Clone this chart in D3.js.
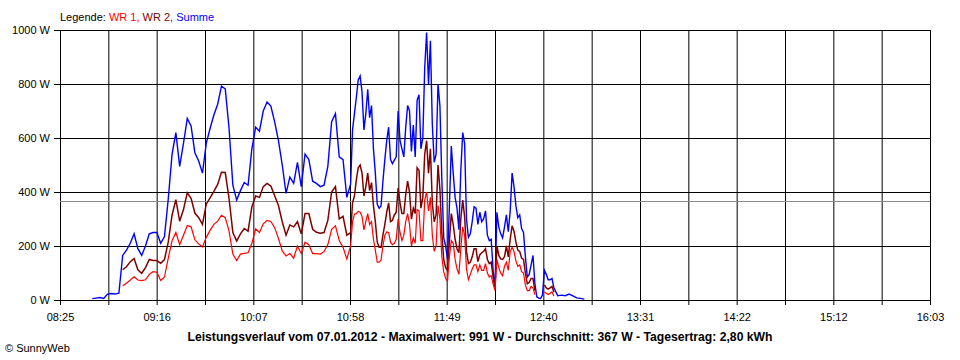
<!DOCTYPE html>
<html><head><meta charset="utf-8">
<script src="https://cdn.jsdelivr.net/npm/d3@7"></script>
<style>
body{margin:0;background:#fff}
svg text{font-family:"Liberation Sans",Arial,sans-serif;}
</style>
</head><body>
<svg id="c" width="960" height="360"></svg>
<script>
const times = [
"08:42","08:44","08:46","08:48","08:50","08:52","08:54","08:56","08:58","09:00",
"09:02","09:04","09:06","09:08","09:10","09:12","09:14","09:16","09:18","09:20",
"09:22","09:24","09:26","09:28","09:30","09:32","09:34","09:36","09:38","09:40",
"09:42","09:44","09:46","09:48","09:50","09:52","09:54","09:56","09:58","10:00",
"10:02","10:04","10:06","10:08","10:10","10:12","10:14","10:16","10:18","10:20",
"10:22","10:24","10:26","10:28","10:30","10:32","10:34","10:36","10:38","10:40",
"10:42","10:44","10:46","10:48","10:50","10:52","10:54","10:56","10:58","10:59",
"11:00","11:01","11:02","11:03","11:04","11:05","11:06","11:07","11:08","11:09",
"11:10","11:11","11:12","11:13","11:14","11:15","11:16","11:17","11:18","11:19",
"11:20","11:21","11:22","11:23","11:24","11:25","11:26","11:27","11:28","11:29",
"11:30","11:31","11:32","11:33","11:34","11:35","11:36","11:37","11:38","11:39",
"11:40","11:41","11:42","11:43","11:44","11:45","11:46","11:47","11:48","11:49",
"11:50","11:51","11:52","11:53","11:54","11:55","11:56","11:57","11:58","11:59",
"12:00","12:01","12:02","12:03","12:04","12:05","12:06","12:07","12:08","12:09",
"12:10","12:11","12:12","12:13","12:14","12:15","12:16","12:17","12:18","12:19",
"12:20","12:21","12:22","12:23","12:24","12:25","12:26","12:27","12:28","12:29",
"12:30","12:31","12:32","12:33","12:34","12:35","12:36","12:37","12:38","12:39",
"12:40","12:41","12:42","12:43","12:44","12:45","12:47","12:49","12:51","12:53",
"12:55","12:57","12:59","13:01"
];
const summe = [
5,7,9,6,22,24,22,25,165,185,
210,245,190,165,200,245,250,250,210,235,
375,540,620,495,580,672,645,545,515,470,
580,635,685,725,792,782,635,425,370,405,
435,425,560,640,625,700,733,718,660,590,
500,395,455,432,510,420,540,520,440,432,
420,425,495,660,690,530,520,380,430,630,
690,750,815,830,770,630,690,780,675,720,
560,470,355,340,348,440,520,590,640,520,
505,518,530,700,590,560,530,640,720,700,
550,648,530,740,760,560,600,860,991,800,
960,650,510,540,800,720,450,230,200,150,
350,570,470,380,340,260,480,620,580,300,
232,245,290,345,340,280,325,290,300,330,
240,220,225,110,45,325,270,245,230,270,
315,253,330,470,420,350,305,315,265,250,
160,85,95,130,165,60,12,7,6,18,
110,95,75,75,80,45,16,18,16,22,
15,8,6,3
];
const wr2 = [
null,null,null,null,null,null,null,null,112,123,
142,154,112,99,120,150,146,146,136,150,
215,315,372,292,335,397,377,322,305,280,
355,378,402,428,473,472,375,250,218,245,
265,255,345,385,380,420,432,422,386,350,
290,240,278,271,290,245,320,320,262,251,
247,250,295,400,420,300,310,240,250,360,
385,445,490,500,470,385,420,470,405,435,
350,290,215,195,195,240,280,325,360,290,
295,315,325,415,360,320,320,390,440,400,
300,340,320,490,480,340,380,540,590,470,
560,360,290,315,500,410,250,150,120,110,
220,320,280,225,190,175,300,370,310,180,
135,140,160,190,190,142,167,175,180,190,
150,135,140,85,40,200,165,152,150,160,
200,160,225,275,255,215,185,180,155,150,
100,60,65,80,80,35,null,null,null,null,
56,45,40,45,50,30,null,null,null,null,
null,null,null,null
];
const wr1 = [
null,null,null,null,null,null,null,null,52,62,
74,86,74,72,75,95,105,103,72,85,
155,220,250,205,240,276,271,223,208,196,
232,258,280,292,314,305,255,170,146,170,
173,175,210,263,250,282,295,291,268,228,
182,163,172,155,200,172,214,205,172,172,
170,179,205,262,275,220,195,152,200,290,
318,320,328,325,310,260,290,320,280,290,
225,185,140,140,148,200,240,252,250,214,
205,210,225,300,250,220,240,290,320,280,
200,230,210,335,330,220,220,370,400,330,
380,240,180,200,350,300,160,105,80,70,
160,220,210,150,115,95,190,270,240,115,
75,95,115,130,130,105,130,110,110,135,
100,85,90,60,35,150,120,100,90,125,
140,110,180,195,180,145,125,130,105,100,
55,35,35,50,45,20,null,null,null,null,
30,25,20,25,30,15,null,null,null,null,
null,null,null,null
];
const yTicks = [0, 200, 400, 600, 800, 1000];
const xTickLabels = ["08:25","09:16","10:07","10:58","11:49","12:40","13:31","14:22","15:12","16:03"];
const startTime = "08:25", endTime = "16:03";
const average = 367;
const titleText = "Leistungsverlauf vom 07.01.2012 - Maximalwert: 991 W - Durchschnitt: 367 W - Tagesertrag: 2,80 kWh";
const legendParts = [["Legende: ", "#000000"], ["WR 1,", "#ff0000"], [" WR 2,", "#800000"], [" Summe", "#0000ff"]];
const seriesDefs = [
  {name: "Summe", values: summe, color: "#0000ff", w: 1.4},
  {name: "WR 2", values: wr2, color: "#800000", w: 1.5},
  {name: "WR 1", values: wr1, color: "#ff0000", w: 1.2}
];

const toMin = s => { const [h, m] = s.split(":").map(Number); return h * 60 + m; };
const svg = d3.select("#c");
const L = 60, R = 930, T = 30, B = 300;
const x = d3.scaleLinear().domain([toMin(startTime), toMin(endTime)]).range([L, R]);
const y = d3.scaleLinear().domain([0, 1000]).range([B, T]);

// grid positions: 18 equal intervals, labels on every second
const nInt = 18;
const gridTimes = d3.range(nInt + 1).map(i => toMin(startTime) + i * (toMin(endTime) - toMin(startTime)) / nInt);

// horizontal grid
svg.append("g").attr("transform", `translate(${L},0)`)
  .call(d3.axisLeft(y).tickValues(yTicks).tickSize(-(R - L)).tickFormat(""))
  .call(g => g.select(".domain").remove())
  .call(g => g.selectAll("line").attr("stroke", "#000"));
// vertical grid
svg.append("g").attr("transform", `translate(0,${B})`)
  .call(d3.axisBottom(x).tickValues(gridTimes).tickSize(-(B - T)).tickFormat(""))
  .call(g => g.select(".domain").remove())
  .call(g => g.selectAll("line").attr("stroke", "#000"));

// y axis ticks + labels
svg.append("g").attr("transform", `translate(${L},0)`)
  .call(d3.axisLeft(y).tickValues(yTicks).tickSize(6).tickPadding(4).tickFormat(d => d + " W"))
  .call(g => g.select(".domain").remove())
  .call(g => g.selectAll("line").attr("stroke", "#000"))
  .call(g => g.selectAll("text").attr("fill", "#000").style("font-size", "11px").style("font-family", "Liberation Sans, Arial, sans-serif"));

// x axis ticks + labels
svg.append("g").attr("transform", `translate(0,${B})`)
  .call(d3.axisBottom(x).tickValues(gridTimes).tickSize(5).tickPadding(8)
    .tickFormat((d, i) => i % 2 === 0 ? xTickLabels[i / 2] : ""))
  .call(g => g.select(".domain").remove())
  .call(g => g.selectAll("line").attr("stroke", "#000"))
  .call(g => g.selectAll("text").attr("fill", "#000").style("font-size", "11px").style("font-family", "Liberation Sans, Arial, sans-serif"));

// frame
svg.append("rect").attr("x", L + 0.5).attr("y", T + 0.5).attr("width", R - L).attr("height", B - T)
  .attr("fill", "none").attr("stroke", "#000");

// average line
svg.append("line").attr("x1", L).attr("x2", R)
  .attr("y1", Math.round(y(average)) + 0.5).attr("y2", Math.round(y(average)) + 0.5)
  .attr("stroke", "#8c8c8c").attr("stroke-width", 1);

// series
const line = d3.line().defined(d => d.v != null).x(d => x(d.t)).y(d => y(d.v));
seriesDefs.forEach(s => {
  const pts = times.map((t, i) => ({t: toMin(t), v: s.values[i]}));
  svg.append("path").datum(pts).attr("d", line)
    .attr("fill", "none").attr("stroke", s.color).attr("stroke-width", s.w)
    .attr("stroke-linejoin", "miter");
});

// legend
const leg = svg.append("text").attr("x", 60).attr("y", 21).style("font-size", "11px");
legendParts.forEach(p => leg.append("tspan").attr("fill", p[1]).text(p[0]));
leg.attr("xml:space", "preserve");

// title
svg.append("text").attr("x", 480).attr("y", 341).attr("text-anchor", "middle")
  .style("font-size", "12px").style("font-weight", "bold")
  .attr("textLength", 585).attr("lengthAdjust", "spacingAndGlyphs")
  .text(titleText);

// copyright
svg.append("text").attr("x", 5).attr("y", 352).style("font-size", "11px").text("© SunnyWeb");
</script>
</body></html>
